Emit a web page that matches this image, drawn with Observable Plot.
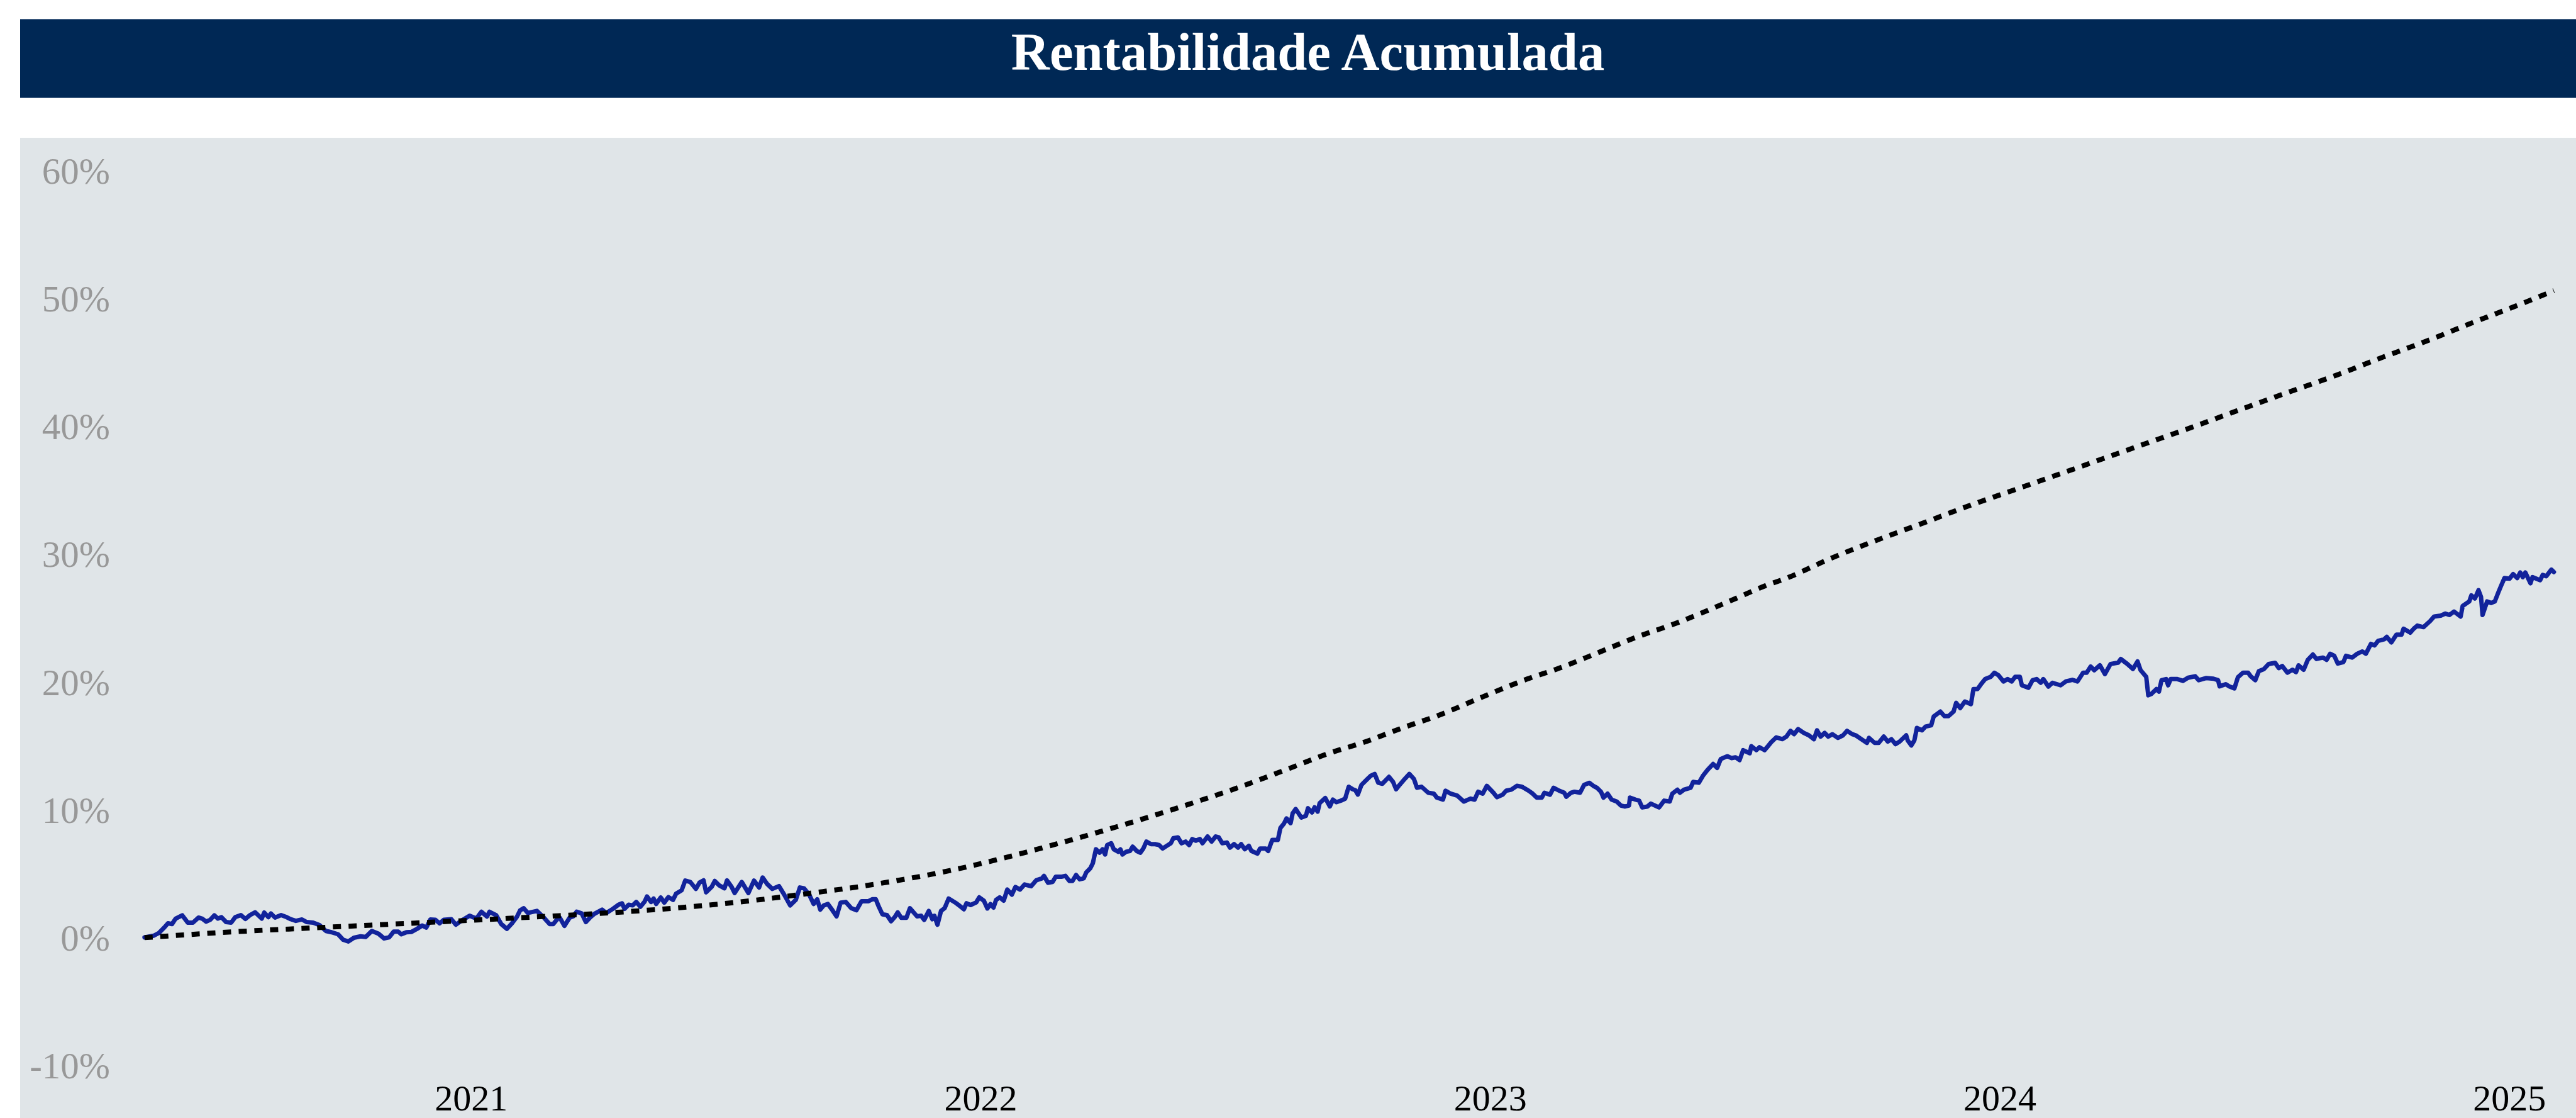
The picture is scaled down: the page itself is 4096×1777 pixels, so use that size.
<!DOCTYPE html>
<html>
<head>
<meta charset="utf-8">
<script src="https://cdn.jsdelivr.net/npm/d3@7"></script>
<script src="https://cdn.jsdelivr.net/npm/@observablehq/plot@0.6"></script>
<style>
  html, body { margin: 0; padding: 0; background: #ffffff; }
  body { width: 4096px; height: 1777px; overflow: hidden; position: relative; }
  #title {
    position: absolute; left: 31.5px; top: 29.6px; width: 4096px; height: 124.8px;
    background: #002855; border-top: 1px solid #6b819e; border-bottom: 1px solid #6b819e;
    color: #ffffff; text-align: center;
    font-family: "Liberation Serif", "Times New Roman", serif; font-weight: bold;
    font-size: 84.7px; line-height: 124.8px;
  }
  #title span { position: relative; top: -10px; }
  #chart { position: absolute; left: 31.5px; top: 219px; }
</style>
</head>
<body>
<div id="title"><span>Rentabilidade Acumulada</span></div>
<div id="chart"></div>
<script>
// Tick labels
const xTicks = [2021, 2022, 2023, 2024, 2025];
const yTicks = [-10, 0, 10, 20, 30, 40, 50, 60];

// Fund cumulative return (%), time in decimal years
const fundYears = [
2020.359,2020.377,2020.387,2020.398,2020.405,2020.413,2020.420,2020.433,2020.444,2020.454,
2020.465,2020.472,2020.480,2020.488,2020.496,2020.503,2020.510,2020.519,2020.529,2020.537,
2020.548,2020.557,2020.566,2020.576,2020.589,2020.594,2020.602,2020.607,2020.615,2020.627,
2020.638,2020.646,2020.656,2020.668,2020.677,2020.690,2020.702,2020.715,2020.726,2020.739,
2020.749,2020.759,2020.770,2020.783,2020.793,2020.805,2020.818,2020.829,2020.839,2020.848,
2020.857,2020.863,2020.873,2020.883,2020.894,2020.904,2020.912,2020.920,2020.930,2020.938,
2020.946,2020.961,2020.970,2020.981,2020.997,2021.010,2021.020,2021.031,2021.036,2021.049,
2021.059,2021.070,2021.080,2021.090,2021.096,2021.103,2021.111,2021.129,2021.143,2021.154,
2021.161,2021.169,2021.174,2021.183,2021.193,2021.200,2021.207,2021.217,2021.225,2021.234,
2021.242,2021.257,2021.265,2021.278,2021.289,2021.296,2021.301,2021.309,2021.317,2021.324,
2021.332,2021.340,2021.345,2021.353,2021.358,2021.363,2021.372,2021.379,2021.387,2021.396,
2021.402,2021.413,2021.420,2021.430,2021.441,2021.448,2021.456,2021.461,2021.472,2021.478,
2021.487,2021.497,2021.502,2021.511,2021.517,2021.531,2021.544,2021.555,2021.565,2021.572,
2021.581,2021.591,2021.604,2021.614,2021.626,2021.637,2021.645,2021.653,2021.663,2021.672,
2021.679,2021.685,2021.692,2021.700,2021.707,2021.717,2021.725,2021.735,2021.746,2021.756,
2021.766,2021.779,2021.787,2021.794,2021.800,2021.807,2021.816,2021.824,2021.831,2021.837,
2021.844,2021.854,2021.861,2021.875,2021.883,2021.889,2021.898,2021.905,2021.909,2021.915,
2021.922,2021.929,2021.937,2021.952,2021.967,2021.972,2021.980,2021.991,2021.997,2022.006,
2022.013,2022.019,2022.025,2022.030,2022.037,2022.045,2022.052,2022.061,2022.068,2022.077,
2022.086,2022.099,2022.109,2022.120,2022.124,2022.132,2022.141,2022.147,2022.158,2022.166,
2022.174,2022.180,2022.187,2022.194,2022.202,2022.207,2022.215,2022.220,2022.226,2022.233,
2022.239,2022.244,2022.248,2022.256,2022.261,2022.270,2022.274,2022.278,2022.285,2022.293,
2022.298,2022.306,2022.313,2022.319,2022.325,2022.334,2022.342,2022.350,2022.357,2022.365,
2022.373,2022.378,2022.387,2022.394,2022.402,2022.409,2022.415,2022.422,2022.430,2022.435,
2022.445,2022.453,2022.461,2022.467,2022.474,2022.483,2022.489,2022.497,2022.505,2022.511,
2022.518,2022.526,2022.531,2022.543,2022.548,2022.559,2022.564,2022.572,2022.583,2022.588,
2022.595,2022.600,2022.608,2022.612,2022.618,2022.629,2022.638,2022.642,2022.650,2022.655,
2022.661,2022.665,2022.676,2022.685,2022.691,2022.698,2022.707,2022.715,2022.722,2022.730,
2022.735,2022.740,2022.747,2022.757,2022.765,2022.773,2022.780,2022.788,2022.801,2022.809,
2022.815,2022.822,2022.832,2022.841,2022.850,2022.856,2022.865,2022.878,2022.889,2022.895,
2022.907,2022.912,2022.922,2022.935,2022.948,2022.961,2022.969,2022.976,2022.985,2022.993,
2023.006,2023.013,2023.024,2023.031,2023.041,2023.052,2023.062,2023.075,2023.083,2023.091,
2023.101,2023.106,2023.117,2023.124,2023.135,2023.145,2023.149,2023.158,2023.165,2023.176,
2023.184,2023.194,2023.202,2023.209,2023.217,2023.222,2023.230,2023.238,2023.248,2023.256,
2023.264,2023.272,2023.274,2023.285,2023.292,2023.298,2023.308,2023.315,2023.331,2023.341,
2023.352,2023.357,2023.367,2023.372,2023.380,2023.393,2023.398,2023.409,2023.417,2023.426,
2023.437,2023.445,2023.452,2023.465,2023.473,2023.481,2023.489,2023.496,2023.509,2023.512,
2023.522,2023.528,2023.538,2023.543,2023.551,2023.561,2023.573,2023.581,2023.589,2023.596,
2023.604,2023.615,2023.625,2023.635,2023.641,2023.648,2023.656,2023.663,2023.671,2023.682,
2023.692,2023.700,2023.710,2023.717,2023.728,2023.739,2023.743,2023.754,2023.762,2023.772,
2023.780,2023.787,2023.795,2023.803,2023.816,2023.819,2023.826,2023.832,2023.837,2023.847,
2023.854,2023.865,2023.870,2023.883,2023.891,2023.899,2023.909,2023.914,2023.922,2023.931,
2023.943,2023.948,2023.956,2023.963,2023.971,2023.982,2023.989,2023.997,2024.007,2024.015,
2024.023,2024.030,2024.039,2024.043,2024.056,2024.064,2024.072,2024.080,2024.085,2024.095,
2024.103,2024.119,2024.129,2024.142,2024.152,2024.163,2024.170,2024.178,2024.185,2024.196,
2024.206,2024.217,2024.232,2024.237,2024.250,2024.261,2024.270,2024.276,2024.287,2024.291,
2024.297,2024.307,2024.312,2024.317,2024.326,2024.330,2024.335,2024.348,2024.359,2024.369,
2024.383,2024.390,2024.405,2024.419,2024.428,2024.431,2024.443,2024.450,2024.460,2024.467,
2024.477,2024.487,2024.492,2024.501,2024.508,2024.518,2024.527,2024.540,2024.547,2024.554,
2024.564,2024.574,2024.581,2024.586,2024.596,2024.604,2024.614,2024.621,2024.634,2024.641,
2024.648,2024.656,2024.663,2024.674,2024.679,2024.691,2024.701,2024.711,2024.718,2024.728,
2024.735,2024.742,2024.754,2024.759,2024.768,2024.778,2024.788,2024.792,2024.805,2024.812,
2024.819,2024.831,2024.844,2024.852,2024.865,2024.874,2024.882,2024.891,2024.904,2024.908,
2024.921,2024.925,2024.932,2024.939,2024.944,2024.947,2024.956,2024.964,2024.971,2024.978,
2024.983,2024.990,2025.000,2025.007,2025.015,2025.021,2025.026,2025.031,2025.041,2025.045,
2025.060,2025.065,2025.072,2025.082,2025.087
];
const fundReturns = [
0.12,0.25,0.46,0.90,1.22,1.16,1.59,1.84,1.27,1.27,
1.67,1.59,1.35,1.50,1.84,1.59,1.70,1.32,1.27,1.70,
1.86,1.56,1.86,2.08,1.59,2.06,1.70,1.99,1.67,1.86,
1.70,1.54,1.41,1.52,1.32,1.27,1.09,0.62,0.52,0.36,
-0.07,-0.20,0.09,0.20,0.15,0.62,0.41,0.04,0.12,0.57,
0.57,0.36,0.52,0.55,0.79,1.05,0.89,1.52,1.49,1.22,
1.49,1.54,1.11,1.43,1.81,1.59,2.12,1.75,2.12,1.86,
1.16,0.79,1.22,1.75,2.23,2.40,2.03,2.19,1.65,1.16,
1.16,1.54,1.65,1.02,1.65,1.76,2.13,1.99,1.32,1.70,
1.97,2.29,2.02,2.35,2.67,2.78,2.35,2.67,2.62,2.89,
2.51,2.89,3.32,2.89,3.16,2.73,3.24,2.84,3.27,3.05,
3.53,3.80,4.56,4.45,3.91,4.40,4.58,3.64,4.07,4.53,
4.18,3.96,4.58,4.07,3.59,4.45,3.59,4.56,4.02,4.80,
4.29,3.91,4.13,3.48,2.62,3.05,4.02,3.96,3.48,2.73,
3.10,2.29,2.62,2.73,2.35,1.76,2.84,2.89,2.40,2.24,
2.94,2.94,3.10,3.10,2.51,1.92,1.86,1.38,1.70,2.08,
1.65,1.65,2.40,1.76,1.81,1.49,2.19,1.54,1.81,1.11,
2.19,2.40,3.16,2.79,2.32,2.79,2.65,2.85,3.25,2.99,
2.38,2.72,2.45,3.05,3.25,2.99,3.86,3.46,4.06,3.86,
4.26,4.12,4.59,4.73,4.93,4.39,4.46,4.86,4.86,4.93,
4.53,4.53,5.00,4.66,4.73,5.20,5.53,5.93,7.01,6.74,
7.01,6.60,7.34,7.48,7.01,6.81,7.01,6.60,6.81,6.88,
7.21,6.88,6.74,7.07,7.61,7.41,7.41,7.34,7.07,7.28,
7.48,7.88,7.94,7.48,7.61,7.34,7.81,7.68,7.81,7.48,
8.01,7.61,8.01,7.94,7.48,7.54,7.14,7.41,7.14,7.41,
7.01,7.28,6.88,6.67,7.07,7.07,6.88,7.74,7.74,8.68,
9.02,9.42,9.05,9.82,10.16,9.49,9.62,10.22,9.89,10.29,
9.95,10.62,11.02,10.36,10.89,10.69,10.82,10.96,11.90,11.70,
11.63,11.29,12.04,12.44,12.75,12.90,12.21,12.13,12.67,12.28,
11.70,12.05,12.51,12.90,12.51,11.82,11.90,11.43,11.36,11.05,
10.89,11.59,11.36,11.20,10.74,10.97,10.89,11.51,11.36,11.97,
11.43,11.08,11.28,11.59,11.67,11.97,11.90,11.59,11.36,11.05,
11.05,11.43,11.28,11.82,11.59,11.43,11.12,11.43,11.51,11.43,
12.05,12.21,11.97,11.82,11.51,11.05,11.36,10.89,10.74,10.43,
10.35,10.43,11.05,10.89,10.81,10.28,10.35,10.58,10.28,10.81,
10.74,11.36,11.67,11.43,11.67,11.82,12.28,12.21,12.75,13.21,
13.68,13.37,14.06,14.29,14.14,14.20,13.98,14.76,14.52,15.07,
14.76,14.99,14.76,14.99,15.38,15.76,15.62,15.82,16.27,16.01,
16.41,16.11,15.92,15.62,16.31,15.82,16.11,15.82,16.01,15.72,
15.92,16.27,16.01,15.92,15.62,15.33,15.72,15.33,15.33,15.82,
15.43,15.62,15.23,15.43,15.92,15.52,15.13,15.52,16.50,16.31,
16.60,16.70,17.39,17.78,17.42,17.42,17.78,18.46,18.05,18.56,
18.36,19.54,19.54,19.93,20.32,20.50,20.81,20.62,20.13,20.32,
20.13,20.50,20.50,19.83,19.64,20.23,20.32,20.03,20.32,19.73,
20.03,19.83,20.13,20.26,20.13,20.81,20.81,21.30,21.01,21.40,
20.71,21.50,21.60,21.89,21.50,21.11,21.70,21.01,20.50,19.05,
19.15,19.54,19.34,20.23,20.32,19.83,20.32,20.32,20.18,20.42,
20.54,20.23,20.40,20.35,20.23,19.75,19.92,19.75,19.59,20.47,
20.82,20.82,20.54,20.23,20.94,21.10,21.49,21.59,21.18,21.34,
20.82,21.05,20.86,21.39,21.05,21.82,22.24,21.89,22.00,21.82,
22.30,22.14,21.53,21.65,22.14,22.00,22.30,22.48,22.30,23.07,
22.95,23.31,23.43,23.62,23.19,23.79,23.79,24.26,23.95,24.26,
24.50,24.38,24.85,25.21,25.28,25.44,25.33,25.60,25.21,26.04,
26.39,26.86,26.62,27.27,26.74,25.33,26.39,26.27,26.39,27.10,
27.58,28.22,28.17,28.53,28.22,28.65,28.29,28.65,27.81,28.29,
28.05,28.46,28.36,28.88,28.69
];

// Benchmark cumulative return (%), dotted line
const benchYears = [
2020.359,2020.531,2020.694,2020.889,2021.049,2021.146,2021.306,2021.435,2021.567,2021.663,
2021.759,2021.854,2021.946,2022.045,2022.141,2022.231,2022.321,2022.415,2022.505,2022.595,
2022.683,2022.752,2022.835,2022.897,2022.985,2023.072,2023.135,2023.194,2023.285,2023.372,
2023.461,2023.548,2023.578,2023.666,2023.759,2023.852,2023.937,2024.028,2024.119,2024.209,
2024.300,2024.386,2024.475,2024.566,2024.658,2024.750,2024.839,2024.928,2025.016,2025.087
];
const benchReturns = [
0.10,0.55,0.87,1.24,1.56,1.76,2.13,2.53,3.07,3.56,
4.07,4.69,5.40,6.33,7.34,8.35,9.42,10.62,11.83,13.17,
14.51,15.38,16.61,17.46,18.93,20.32,21.17,22.10,23.57,24.80,
26.27,27.74,28.16,29.72,31.19,32.56,33.84,35.11,36.38,37.65,
38.93,40.14,41.44,42.75,44.05,45.47,46.78,48.20,49.55,50.69
];

const fund = fundYears.map((t, i) => ({t, v: fundReturns[i]}));
const bench = benchYears.map((t, i) => ({t, v: benchReturns[i]}));

const chart = Plot.plot({
  width: 4065,
  height: 1558,
  marginLeft: 149.5,
  marginRight: 25.6,
  marginTop: 53.3,
  marginBottom: 81.7,
  style: {background: "#e0e5e8", fontFamily: "'Liberation Serif', 'Times New Roman', serif", overflow: "visible"},
  x: {domain: [2020.3, 2025.1]},
  y: {domain: [-10, 60]},
  marks: [
    Plot.axisY({ticks: yTicks, tickSize: 0, tickPadding: 7, tickFormat: d => d + "%", fontSize: 59, fill: "#989898", label: null}),
    Plot.axisX({ticks: xTicks, tickSize: 0, tickPadding: 28, tickFormat: d => String(d), fontSize: 58, fill: "#000000", label: null}),
    Plot.line(fund, {x: "t", y: "v", stroke: "#12239b", strokeWidth: 7, strokeLinejoin: "round"}),
    Plot.line(bench, {x: "t", y: "v", curve: "monotone-x", stroke: "#000000", strokeWidth: 8, strokeDasharray: "13,12", strokeLinecap: "butt"})
  ]
});
document.getElementById("chart").appendChild(chart);
</script>
</body>
</html>
